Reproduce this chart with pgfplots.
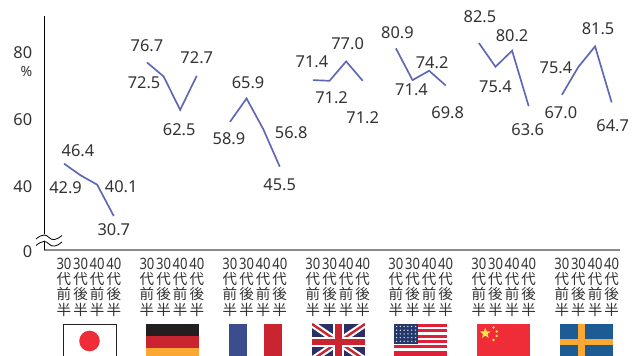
\documentclass[border=0pt]{standalone}
\usepackage{fontspec}
\usepackage{pgfplots}
\usetikzlibrary{shapes.geometric}
\pgfplotsset{compat=1.18}
\setmainfont{Noto Sans}
\newfontfamily\cjk{Noto Sans CJK JP}
\newfontfamily\narrow[FakeStretch=0.83]{Noto Sans}
\definecolor{ink}{HTML}{333333}
\definecolor{trace}{HTML}{5F66B5}
\definecolor{baseline}{HTML}{8A8A8A}
\definecolor{jpred}{HTML}{EF2D38}
\definecolor{deblack}{HTML}{231F20}
\definecolor{dered}{HTML}{C9242F}
\definecolor{degold}{HTML}{FBA733}
\definecolor{frblue}{HTML}{3C4D8E}
\definecolor{ukblue}{HTML}{2C2F63}
\definecolor{usblue}{HTML}{25386B}
\definecolor{usred}{HTML}{DF2038}
\definecolor{cnyellow}{HTML}{F9E547}
\definecolor{seblue}{HTML}{1C5B93}
\newcommand\lab[2]{{\narrow\fontsize{11.8}{11.55}\selectfont #1}\\{\cjk 代}\\{\cjk #2}\\{\cjk 半}}
\newcommand\qa{\lab{30}{前}}
\newcommand\qb{\lab{30}{後}}
\newcommand\qc{\lab{40}{前}}
\newcommand\qd{\lab{40}{後}}
% x: 5 units per country, y: the label "0" stands on the broken baseline
\pgfplotstableread{
x y dx dy
0 46.4 14 -13
1 42.9 -15 12
2 40.1 24 1.5
3 30.7 0 14
}\japan
\pgfplotstableread{
x y dx dy
5 76.7 0 -17
6 72.5 -19.5 6
7 62.5 -1 20
8 72.7 0 -18
}\germany
\pgfplotstableread{
x y dx dy
10 58.9 -1 17
11 65.9 1.5 -16
12 56.8 28 3.5
13 45.5 0 18
}\france
\pgfplotstableread{
x y dx dy
15 71.4 -1 -18
16 71.2 2 17
17 77.0 1.5 -18
18 71.2 0 37
}\britain
\pgfplotstableread{
x y dx dy
20 80.9 1.5 -16
21 71.4 -1 10
22 74.2 3 -8
23 69.8 2 27
}\usa
\pgfplotstableread{
x y dx dy
25 82.5 1 -26
26 75.4 0 19.5
27 80.2 0 -15
28 63.6 -1 24
}\china
\pgfplotstableread{
x y dx dy
30 67.0 -1 18
31 75.4 -22.5 1
32 81.5 3 -18
33 64.7 1 23
}\sweden
\begin{document}
\begin{tikzpicture}
\useasboundingbox (0,0) rectangle (480pt,-267pt);
\begin{axis}[
  at={(33.375pt,-187.875pt)}, anchor=south west,
  scale only axis, width=431.6pt, height=175.9pt,
  xmin=-1.175, xmax=33.5, ymin=20.4, ymax=90.6,
  axis y line*=left, axis x line*=bottom,
  y axis line style={-,draw=black,line width=0.8pt},
  x axis line style={-,draw=baseline,line width=1.5pt},
  tick style={draw=none},
  clip=false,
  ytick={20.4,40,60,80},
  yticklabels={0,40,60,80},
  yticklabel style={font=\fontsize{12.3}{14}\selectfont,text=ink,inner sep=0pt,xshift=-9pt,yshift=-1pt},
  xtick={0,1,2,3,5,6,7,8,10,11,12,13,15,16,17,18,20,21,22,23,25,26,27,28,30,31,32,33},
  xticklabels={\qa,\qb,\qc,\qd,\qa,\qb,\qc,\qd,\qa,\qb,\qc,\qd,\qa,\qb,\qc,\qd,\qa,\qb,\qc,\qd,\qa,\qb,\qc,\qd,\qa,\qb,\qc,\qd},
  xticklabel style={align=center,anchor=north,inner sep=0pt,yshift=-5.5pt,text=ink,
    font=\fontsize{10.9}{11.4}\selectfont},
  /pgf/number format/assume math mode=true,
  series/.style={
    draw=trace, line width=1.25pt, mark=none, solid, line join=miter,
    point meta=y,
    visualization depends on={\thisrow{dx} \as \dx},
    visualization depends on={\thisrow{dy} \as \dy},
    nodes near coords={\pgfmathprintnumber[fixed,fixed zerofill,precision=1]{\pgfplotspointmeta}},
    nodes near coords style={anchor=center,inner sep=0pt,text=ink,
      font=\fontsize{12.3}{14}\selectfont,
      xshift=\dx*0.75pt, yshift=(0-(\dy))*0.75pt},
  },
]
\addplot[series] table {\japan};
\addplot[series] table {\germany};
\addplot[series] table {\france};
\addplot[series] table {\britain};
\addplot[series] table {\usa};
\addplot[series] table {\china};
\addplot[series] table {\sweden};
\end{axis}
\begin{scope}[x=0.75pt,y=-0.75pt]
% percent sign under the top tick label
\node[text=ink,inner sep=0pt,font=\fontsize{10.5}{12}\selectfont] at (26.5,71.5) {\%};
% break marks on the vertical axis
\fill[white] (36,238) .. controls (42,233) and (46,233) .. (49,237) .. controls (52,241) and (57,240) .. (62,235)
  -- (62,241) .. controls (57,246) and (52,247) .. (49,243) .. controls (46,239) and (42,240) .. (36,245) -- cycle;
\draw[black,line width=0.6pt] (36,239) .. controls (42,234) and (46,234) .. (49,237.5) .. controls (52,241) and (57,240) .. (62,235.5);
\draw[black,line width=0.6pt] (36,245.5) .. controls (42,240.5) and (46,240.5) .. (49,244) .. controls (52,247.5) and (57,246.5) .. (62,242);
% Japan
\draw[deblack,line width=0.7pt] (63.5,324) rectangle (116,357);
\fill[jpred] (89.5,341) circle (10.3);
% Germany
\fill[deblack] (146,324) rectangle (199,336);
\fill[dered] (146,336) rectangle (199,348);
\fill[degold] (146,348) rectangle (199,356);
% France
\fill[frblue] (229,324) rectangle (247,356);
\fill[dered] (264,324) rectangle (282,356);
% United Kingdom
\begin{scope}
\clip (312,324) rectangle (365,356);
\fill[ukblue] (312,324) rectangle (365,360);
\draw[white,line width=5pt] (312,324) -- (365,360) (312,360) -- (365,324);
\draw[dered,line width=1.8pt] (312,324) -- (365,360) (312,360) -- (365,324);
\draw[white,line width=8pt] (338.5,324) -- (338.5,360) (312,342) -- (365,342);
\draw[dered,line width=4.6pt] (338.5,324) -- (338.5,360) (312,342) -- (365,342);
\end{scope}
% United States
\foreach \k in {0,...,5} \fill[usred] (394,324+5.35*\k) rectangle (447,326.9+5.35*\k);
\fill[usred] (394,353.5) rectangle (447,356);
\fill[usblue] (394,324) rectangle (418,344);
\foreach \r in {0,...,4} \foreach \c in {0,...,5}
  \fill[white!85!usblue] (396.5+3.8*\c,326.5+3.7*\r) circle (0.75);
% China
\fill[jpred] (477,324) rectangle (530,356);
\node[star,star points=5,star point ratio=2.4,fill=cnyellow,inner sep=0pt,minimum size=8.5pt] at (485.3,333.3) {};
\foreach \p in {(493.5,327.5),(496.7,331.5),(496.7,336),(493.5,340)}
  \fill[cnyellow] \p circle (1.3);
% Sweden
\fill[seblue] (560,324) rectangle (613,356);
\fill[degold] (577.7,324) rectangle (584.7,356);
\fill[degold] (560,338.7) rectangle (613,345.3);
\end{scope}
\end{tikzpicture}
\end{document}
